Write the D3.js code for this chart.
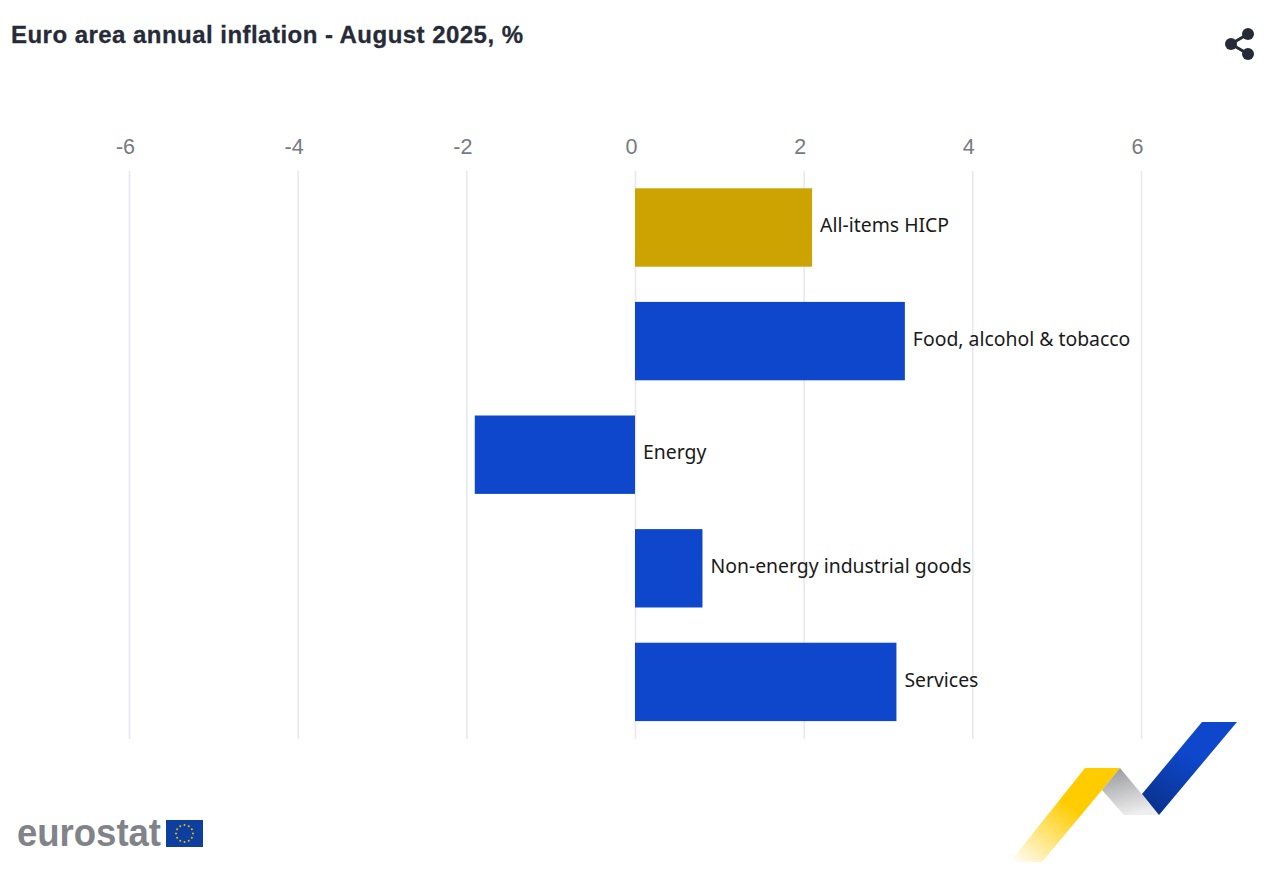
<!DOCTYPE html>
<html><head><meta charset="utf-8">
<script src="https://d3js.org/d3.v7.min.js"></script>
<style>html,body{margin:0;padding:0;background:#fff}svg{display:block}</style>
</head><body><div id="c"></div>
<script>
const categories = ["All-items HICP","Food, alcohol & tobacco","Energy","Non-energy industrial goods","Services"];
const values = [2.1,3.2,-1.9,0.8,3.1];
const barColors = ["#cca300","#0e47cb","#0e47cb","#0e47cb","#0e47cb"];
const tickValues = [-6,-4,-2,0,2,4,6];
const titleText = "Euro area annual inflation - August 2025, %";

const svg = d3.select("#c").append("svg").attr("width",1280).attr("height",883);
const x = d3.scaleLinear().domain([-6,6]).range([129,1141]);
const y = d3.scaleBand().domain(categories).range([170.7,738.7]).paddingInner(0.31).paddingOuter(0.155);

svg.append("text").attr("x",11).attr("y",43).attr("fill","#262b38").attr("stroke","#262b38").attr("stroke-width",0.3)
  .style("font","bold 24px 'Liberation Sans',Arial,sans-serif").attr("textLength",512).text(titleText);

// gridlines and tick labels via the axis
const axis = svg.append("g").attr("transform","translate(0,171)")
  .call(d3.axisTop(x).tickValues(tickValues).tickSize(-568).tickFormat(d=>d));
axis.select(".domain").remove();
axis.selectAll("line").attr("stroke","#e8e8f2").attr("stroke-width",1.6);
axis.selectAll("text").attr("x",-4).attr("y",-17).attr("fill","#777a82")
  .style("font","21.5px 'Liberation Sans',Arial,sans-serif");

// bars
svg.append("g").selectAll("rect").data(categories).join("rect")
  .attr("x",(d,i)=>Math.min(x(0),x(values[i])))
  .attr("y",d=>y(d))
  .attr("width",(d,i)=>Math.abs(x(values[i])-x(0)))
  .attr("height",y.bandwidth())
  .attr("fill",(d,i)=>barColors[i]);

// labels: placed right of the bar (or of zero for negatives)
svg.append("g").selectAll("text").data(categories).join("text")
  .attr("x",(d,i)=>Math.max(x(0),x(values[i]))+8)
  .attr("y",d=>y(d)+y.bandwidth()/2-2)
  .attr("dy","0.35em").attr("fill","#1a1a1a")
  .style("font","19.4px 'Noto Sans',sans-serif")
  .text(d=>d);

// share icon
const share = svg.append("g").attr("fill","#262b38").attr("stroke","#262b38");
share.append("path").attr("d","M1248 34 L1231 44 L1248 54").attr("fill","none").attr("stroke-width",3);
[[1248,34],[1231,44],[1248,54]].forEach(p=>share.append("circle").attr("cx",p[0]).attr("cy",p[1]).attr("r",6).attr("stroke","none"));

// eurostat logo
svg.append("text").attr("x",17).attr("y",846).attr("fill","#808389")
  .style("font","bold 38px 'Liberation Sans',Arial,sans-serif").attr("textLength",144).attr("lengthAdjust","spacingAndGlyphs").text("eurostat");
svg.append("rect").attr("x",166).attr("y",820).attr("width",37).attr("height",27).attr("fill","#0e3f9e");
d3.range(12).forEach(i=>{const a=i*Math.PI/6;svg.append("circle").attr("cx",184.5+8.5*Math.cos(a)).attr("cy",833.5+8.5*Math.sin(a)).attr("r",1).attr("fill","#e6c200");});

// ribbon decoration
const defs = svg.append("defs");
const g1 = defs.append("linearGradient").attr("id","gy").attr("x1","0").attr("y1","1").attr("x2","0.55").attr("y2","0.4");
g1.append("stop").attr("offset","0").attr("stop-color","#ffcc00").attr("stop-opacity",0);
g1.append("stop").attr("offset","1").attr("stop-color","#ffcc00");
const g2 = defs.append("linearGradient").attr("id","gg").attr("x1","0.2").attr("y1","0").attr("x2","0.5").attr("y2","1");
g2.append("stop").attr("offset","0").attr("stop-color","#999a9e");
g2.append("stop").attr("offset","1").attr("stop-color","#eeeeee");
const g3 = defs.append("linearGradient").attr("id","gb").attr("x1","0.3").attr("y1","1").attr("x2","0.6").attr("y2","0.4");
g3.append("stop").attr("offset","0").attr("stop-color","#0a3391");
g3.append("stop").attr("offset","1").attr("stop-color","#0e47cb");
svg.append("path").attr("d","M1085 768 L1120 768 L1102 790 L1042 862 L1010 862 Z").attr("fill","url(#gy)");
svg.append("path").attr("d","M1120 768 L1159 815 L1124 815 L1102 790 Z").attr("fill","url(#gg)");
svg.append("path").attr("d","M1202 722 L1237 722 L1159 815 L1142 794 Z").attr("fill","url(#gb)");
</script></body></html>
